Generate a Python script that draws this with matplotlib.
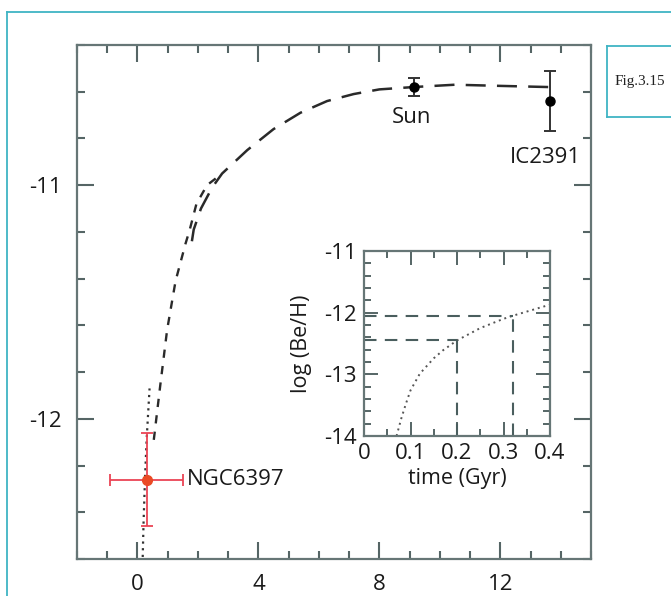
import matplotlib
matplotlib.use("Agg")
import matplotlib.pyplot as plt
from matplotlib.lines import Line2D
from matplotlib.ticker import MultipleLocator

plt.rcParams['font.family'] = ['Open Sans', 'DejaVu Sans']

# ---------------- data ----------------
# main model curve (long dashes)
model_x = [1.8, 1.86, 2.1, 2.47, 2.8, 3.63, 4.5, 5.39, 6.27, 7.15, 8.0, 9.13, 10.5, 12.0, 13.6]
model_y = [-11.24, -11.19, -11.10, -11.01, -10.95, -10.85, -10.76, -10.69, -10.64, -10.61, -10.59, -10.58, -10.57, -10.575, -10.58]
# early branch (short dashes)
early_x = [0.54, 0.76, 0.98, 1.26, 1.59, 1.73, 1.95, 2.3, 2.8]
early_y = [-12.09, -11.85, -11.62, -11.41, -11.25, -11.19, -11.08, -11.0, -10.95]
# inset dotted curve (time in Gyr vs log Be/H)
dot_t = [0.07, 0.08, 0.09, 0.10, 0.12, 0.15, 0.17, 0.20, 0.25, 0.30, 0.32, 0.36, 0.40]
dot_y = [-14.0, -13.72, -13.48, -13.26, -12.99, -12.74, -12.61, -12.45, -12.25, -12.10, -12.05, -11.96, -11.87]

# observations
obs_names = ["Sun", "IC2391"]
obs_x = [9.13, 13.63]
obs_y = [-10.58, -10.64]
obs_yerr = [0.04, 0.13]

ngc_name = "NGC6397"
ngc_x = 0.3
ngc_y = -12.26
ngc_xerr = 1.2
ngc_yerr = 0.2

# inset reference lines
ref_t = [0.20, 0.32]
ref_y = [-12.45, -12.05]

main_xticks = [0, 4, 8, 12]
main_yticks = [-12, -11]
inset_xticks = [0, 0.1, 0.2, 0.3, 0.4]
inset_xticklabels = ["0", "0.1", "0.2", "0.3", "0.4"]
inset_yticks = [-14, -13, -12, -11]

# ---------------- figure ----------------
W, H = 671, 596
fig = plt.figure(figsize=(W / 100, H / 100), dpi=100)

def fr(x0, y0, x1, y1):
    return [x0 / W, 1 - y1 / H, (x1 - x0) / W, (y1 - y0) / H]

spine_c = "#667676"
tick_c = "#556565"
txt_c = "#1a1a1a"
FS = 16

ax = fig.add_axes(fr(77, 45, 591, 559))
ax.set_xlim(-2, 15)
ax.set_ylim(-12.6, -10.4)
for s in ax.spines.values():
    s.set_color(spine_c)
    s.set_linewidth(1.6)
ax.set_xticks(main_xticks)
ax.set_yticks(main_yticks)
ax.xaxis.set_minor_locator(MultipleLocator(1))
ax.yaxis.set_minor_locator(MultipleLocator(0.2))
ax.tick_params(which='both', direction='in', top=True, right=True, color=tick_c, width=1.5)
ax.tick_params(which='major', length=12, labelsize=FS, labelcolor=txt_c, pad=11)
ax.tick_params(which='minor', length=6)
ax.set_xticklabels([str(v) for v in main_xticks])
ax.set_yticklabels([str(v) for v in main_yticks])

# curves
ax.plot(dot_t, dot_y, color="#333333", lw=1.6, ls=(0, (1, 2)))
ax.plot(early_x, early_y, color="#2a2a2a", lw=1.7, ls=(0, (3.5, 3.5)))
ax.plot(model_x, model_y, color="#2a2a2a", lw=1.8, ls=(0, (8, 4.5)))

# observations
ax.errorbar(obs_x, obs_y, yerr=obs_yerr, fmt='o', color='black', ms=6.5,
            ecolor="#333333", elinewidth=1.4, capsize=4, capthick=1.4, zorder=5)
ax.errorbar([ngc_x], [ngc_y], xerr=[ngc_xerr], yerr=[ngc_yerr], fmt='o',
            color="#ea4a25", ms=7, ecolor="#ea4455", elinewidth=1.3,
            capsize=4, capthick=1.3, zorder=5)

ax.text(obs_x[0] - 0.05, obs_y[0] - 0.13, obs_names[0], ha='center', va='center', fontsize=FS, color=txt_c)
ax.text(obs_x[1] - 0.15, obs_y[1] - 0.24, obs_names[1], ha='center', va='center', fontsize=FS, color=txt_c)
ax.text(ngc_x + 1.35, ngc_y, ngc_name, ha='left', va='center', fontsize=FS, color=txt_c)

# ---------------- inset ----------------
axi = fig.add_axes(fr(364, 251, 550, 436))
axi.set_xlim(0, 0.4)
axi.set_ylim(-14, -11)
for s in axi.spines.values():
    s.set_color(spine_c)
    s.set_linewidth(1.6)
axi.set_xticks(inset_xticks)
axi.set_yticks(inset_yticks)
axi.xaxis.set_minor_locator(MultipleLocator(0.05))
axi.yaxis.set_minor_locator(MultipleLocator(0.2))
axi.tick_params(which='both', direction='in', top=True, right=True, color=tick_c, width=1.4)
axi.tick_params(which='major', length=10, labelsize=FS, labelcolor=txt_c, pad=5)
axi.tick_params(which='minor', length=5)
axi.set_xticklabels(inset_xticklabels)
axi.set_yticklabels([str(v) for v in inset_yticks])
axi.set_xlabel("time (Gyr)", fontsize=FS - 0.5, color=txt_c, labelpad=3)
axi.set_ylabel("log (Be/H)", fontsize=FS - 0.5, color=txt_c, labelpad=9)

axi.plot(dot_t, dot_y, color="#555555", lw=1.4, ls=(0, (1, 2)))
for t, y in zip(ref_t, ref_y):
    axi.plot([0, t], [y, y], color="#4a5e5e", lw=1.5, ls=(0, (6, 4)))
    axi.plot([t, t], [-14, y], color="#4a5e5e", lw=1.5, ls=(0, (6, 4)))

# ---------------- decorative frame ----------------
cyan = "#3fb4c4"
def fline(x0, y0, x1, y1):
    fig.add_artist(Line2D([x0 / W, x1 / W], [1 - y0 / H, 1 - y1 / H], color=cyan, lw=1.3,
                          transform=fig.transFigure))
fline(7, 12, 7, 600)
fline(7, 12, 680, 12)
fline(607, 46, 607, 117)
fline(607, 46, 680, 46)
fline(607, 117, 680, 117)
fig.text(615 / W, 1 - 82 / H, "Fig.3.15", fontsize=11, family=['Liberation Serif', 'DejaVu Serif'],
         color="#222222", ha='left', va='center')

fig.savefig("out.png", dpi=100)
